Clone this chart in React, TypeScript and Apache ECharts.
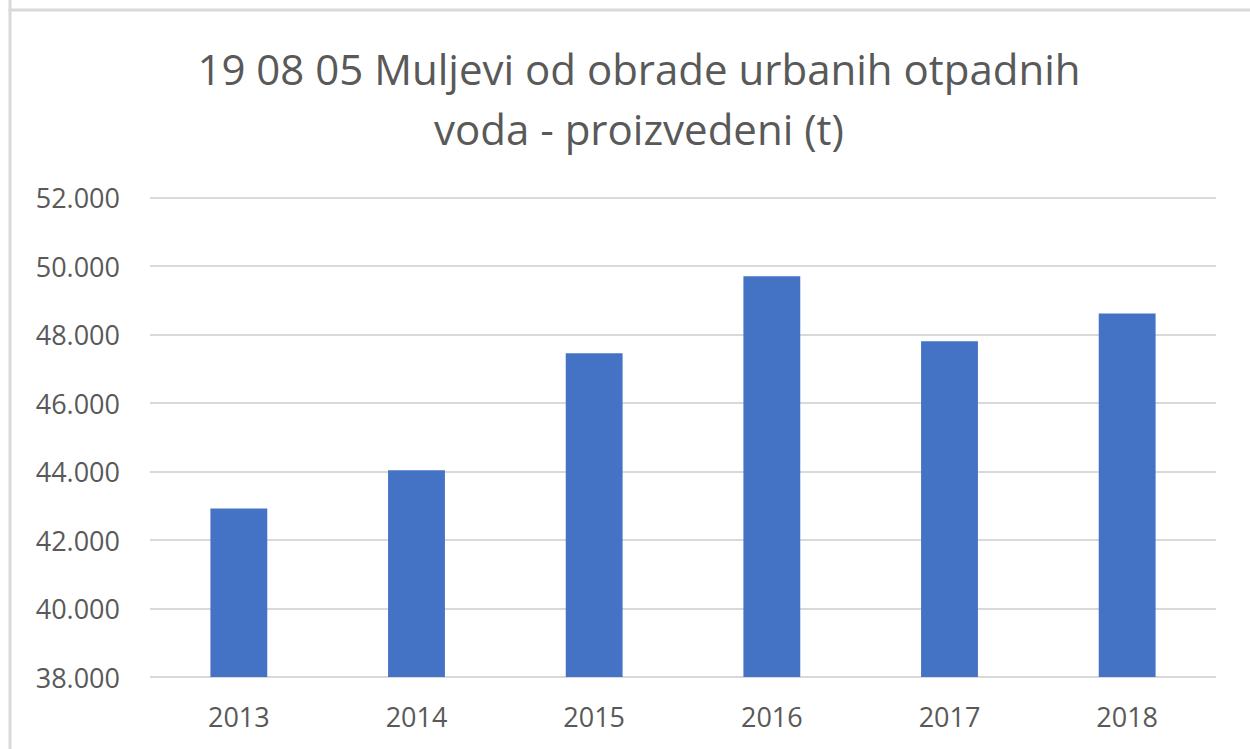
import React, { useEffect, useRef } from "react";
import * as echarts from "echarts";

const titleText = "19 08 05 Muljevi od obrade urbanih otpadnih\nvoda - proizvedeni (t)";
const years = ["2013", "2014", "2015", "2016", "2017", "2018"];
const values = [42920, 44040, 47450, 49700, 47800, 48610];
const yMin = 38000;
const yMax = 52000;
const yStep = 2000;

const fmt = (v: number) => String(Math.round(v)).replace(/\B(?=(\d{3})+(?!\d))/g, ".");

export default function App() {
  const ref = useRef<HTMLDivElement>(null);
  useEffect(() => {
    if (!ref.current) return;
    const chart = echarts.init(ref.current, null, { renderer: "svg" });
    chart.setOption({
      animation: false,
      backgroundColor: "#ffffff",
      textStyle: { fontFamily: "Open Sans" },
      title: {
        text: titleText,
        left: 634,
        top: 33,
        textAlign: "center",
        textStyle: {
          fontFamily: "Open Sans",
          fontSize: 42,
          fontWeight: "normal",
          color: "#595959",
          lineHeight: 60,
        },
      },
      graphic: [
        {
          type: "line",
          shape: { x1: 10, y1: 0, x2: 10, y2: 749 },
          style: { stroke: "#d9d9d9", lineWidth: 3 },
        },
        {
          type: "line",
          shape: { x1: 8.5, y1: 10, x2: 1250, y2: 10 },
          style: { stroke: "#d9d9d9", lineWidth: 3 },
        },
      ],
      grid: { left: 150, right: 34, top: 197.5, bottom: 72, containLabel: false },
      xAxis: {
        type: "category",
        data: years,
        axisLine: { show: false },
        axisTick: { show: false },
        axisLabel: { color: "#595959", fontSize: 27, margin: 26, fontFamily: "Open Sans" },
      },
      yAxis: {
        type: "value",
        min: yMin,
        max: yMax,
        interval: yStep,
        axisLine: { show: false },
        axisTick: { show: false },
        splitLine: { lineStyle: { color: "#d9d9d9", width: 2 } },
        axisLabel: {
          color: "#595959",
          fontSize: 27,
          margin: 30,
          fontFamily: "Open Sans",
          formatter: (v: number) => fmt(v),
        },
      },
      series: [
        {
          type: "bar",
          data: values,
          barWidth: "32%",
          itemStyle: { color: "#4472C4" },
        },
      ],
    });
    return () => chart.dispose();
  }, []);
  return (
    <div
      ref={ref}
      style={{ position: "fixed", left: 0, top: 0, width: 1250, height: 749, background: "#fff" }}
    />
  );
}
